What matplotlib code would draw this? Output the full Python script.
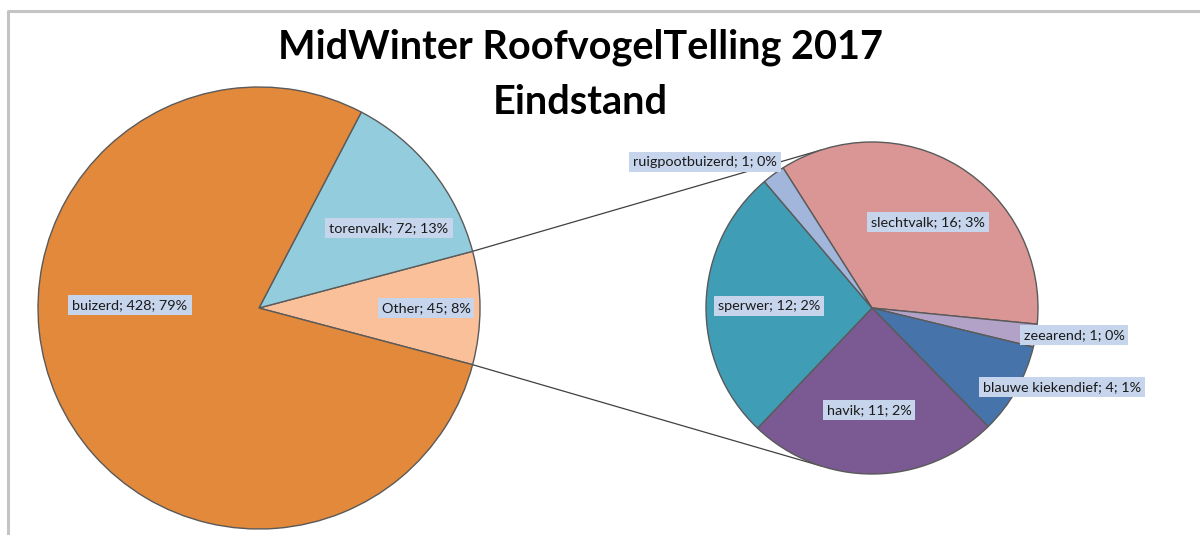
import numpy as np
import matplotlib.pyplot as plt

# main pie
main_labels = ['Other', 'torenvalk', 'buizerd']
main_values = [45, 72, 428]
main_colors = ['#FAC09A', '#93CDDD', '#E2893B']

# secondary pie (breakdown of "Other"), clockwise
sub_labels = ['slechtvalk', 'zeearend', 'blauwe kiekendief', 'havik',
              'sperwer', 'ruigpootbuizerd']
sub_values = [16, 1, 4, 11, 12, 1]
sub_colors = ['#D99694', '#B3A2C7', '#4674AA', '#7B5A93', '#3F9DB5', '#A2B6DC']

total = sum(main_values)

W, H = 1200, 535
fig = plt.figure(figsize=(W / 100, H / 100), dpi=100)
ax = fig.add_axes([0, 0, 1, 1])

def py(y):
    return H - y

# layout
c1, r1 = (259, py(308)), 221
c2, r2 = (872, py(308)), 166
other_angle = 360 * main_values[0] / total

edge = dict(edgecolor='#5a5a5a', linewidth=1.0)
ax.pie(main_values, colors=main_colors, startangle=-other_angle / 2,
       counterclock=True, center=c1, radius=r1, wedgeprops=edge, frame=True)
ax.pie(sub_values, colors=sub_colors, startangle=122.4, counterclock=False,
       center=c2, radius=r2, wedgeprops=edge, frame=True)
ax.set_xlim(0, W)
ax.set_ylim(0, H)
ax.set_aspect('equal')
ax.axis('off')

# connector lines from the "Other" wedge to the secondary pie
a = np.deg2rad(other_angle / 2)
for s in (1, -1):
    x0 = c1[0] + r1 * np.cos(a)
    y0 = c1[1] + s * r1 * np.sin(a)
    b = np.deg2rad(s * 108)
    x1 = c2[0] + r2 * np.cos(b)
    y1 = c2[1] + r2 * np.sin(b)
    ax.plot([x0, x1], [y0, y1], color='#404040', lw=0.9, zorder=0.5)

# data labels
main_pos = [(426, 308), (389, 228), (130, 305)]
sub_pos = [(928, 222), (1074, 335), (1062, 387), (869, 410), (769, 306),
           (705, 162)]

def label(name, v, pos):
    pct = round(100 * v / total)
    ax.text(pos[0], py(pos[1]), f'{name}; {v}; {pct}%', ha='center',
            va='center', fontsize=10.4, family=['Lato', 'DejaVu Sans'],
            color='#1a1a1a', zorder=5,
            bbox=dict(boxstyle='square,pad=0.28', fc='#C6D4EC', ec='none'))

for n, v, p in zip(main_labels, main_values, main_pos):
    label(n, v, p)
for n, v, p in zip(sub_labels, sub_values, sub_pos):
    label(n, v, p)

# title
ax.text(580, py(47), 'MidWinter RoofvogelTelling 2017', ha='center',
        va='center', fontsize=28.5, fontweight='bold',
        family=['Lato', 'DejaVu Sans'])
ax.text(580, py(102), 'Eindstand', ha='center', va='center', fontsize=28.5,
        fontweight='bold', family=['Lato', 'DejaVu Sans'])

# chart border
ax.plot([8, 8, W], [0, py(11), py(11)], color='#C4C4C4', lw=2.2, zorder=0)

fig.savefig('out.png', dpi=100)
